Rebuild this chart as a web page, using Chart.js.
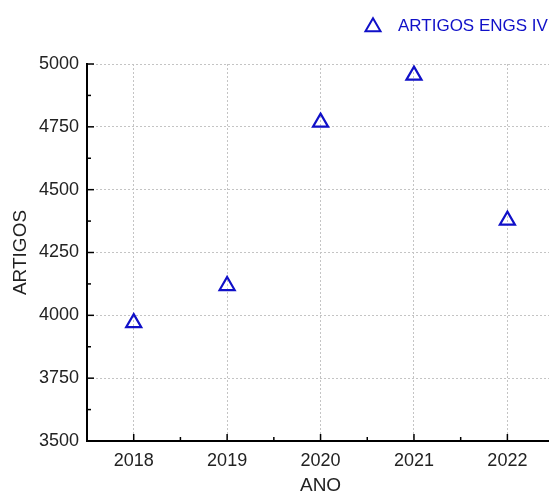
<!DOCTYPE html>
<html>
<head>
<meta charset="utf-8">
<script src="https://cdn.jsdelivr.net/npm/chart.js@4.4.1/dist/chart.umd.min.js"></script>
<style>
  body { margin: 0; overflow: hidden; background: #fff; }
  #wrap { width: 565px; height: 497px; }
</style>
</head>
<body>
<div id="wrap"><canvas id="myChart"></canvas></div>
<script>
let anos = [2018, 2019, 2020, 2021, 2022];
let artigos = [3970, 4118, 4768, 4955, 4378];
let nomeSerie = "ARTIGOS ENGS IV";
let yTicks = [3500, 3750, 4000, 4250, 4500, 4750, 5000];

let azul = "#1010c8";
let fonte = "'Liberation Sans', Arial, sans-serif";

// ticks pra dentro, estilo Origin
const ticksDentro = {
    id: "ticksDentro",
    afterDatasetsDraw(chart) {
        let ctx = chart.ctx;
        let area = chart.chartArea;
        let x = chart.scales.x;
        let y = chart.scales.y;
        ctx.save();
        ctx.strokeStyle = "#000";
        ctx.lineWidth = 1.5;
        anos.forEach((a) => {
            let px = x.getPixelForValue(a);
            ctx.beginPath(); ctx.moveTo(px, area.bottom); ctx.lineTo(px, area.bottom - 7); ctx.stroke();
            let pm = x.getPixelForValue(a + 0.5);
            ctx.beginPath(); ctx.moveTo(pm, area.bottom); ctx.lineTo(pm, area.bottom - 4); ctx.stroke();
        });
        yTicks.forEach((v, i) => {
            let py = y.getPixelForValue(v);
            ctx.beginPath(); ctx.moveTo(area.left, py); ctx.lineTo(area.left + 7, py); ctx.stroke();
            if (i < yTicks.length - 1) {
                let pm = y.getPixelForValue(v + 125);
                ctx.beginPath(); ctx.moveTo(area.left, pm); ctx.lineTo(area.left + 4, pm); ctx.stroke();
            }
        });
        ctx.restore();
    }
};

const legenda = {
    id: "legenda",
    afterDraw(chart) {
        let ctx = chart.ctx;
        ctx.save();
        ctx.strokeStyle = azul;
        ctx.lineWidth = 2;
        ctx.fillStyle = "rgba(0,0,0,0)";
        Chart.helpers.drawPoint(ctx, { pointStyle: "triangle", radius: 8.7, borderWidth: 2, rotation: 0 }, 373, 27);
        ctx.fillStyle = azul;
        ctx.font = "17px " + fonte;
        ctx.textBaseline = "middle";
        ctx.fillText(nomeSerie, 398, 26);
        ctx.restore();
    }
};

var data = {
    datasets: [
        {
            label: nomeSerie,
            data: anos.map((a, i) => ({ x: a, y: artigos[i] })),
            showLine: false,
            pointStyle: "triangle",
            pointRadius: 8.7,
            pointBorderWidth: 2.2,
            pointBorderColor: azul,
            pointBackgroundColor: "rgba(0,0,0,0)"
        }
    ]
};

var myChart = new Chart(document.getElementById("myChart"), {
    type: "scatter",
    data: data,
    plugins: [ticksDentro, legenda],
    options: {
        responsive: true,
        maintainAspectRatio: false,
        animation: false,
        layout: { padding: { top: 64, right: 10, left: 0, bottom: 0 } },
        plugins: { legend: { display: false }, tooltip: { enabled: false } },
        scales: {
            x: {
                type: "linear",
                min: 2017.5,
                max: 2022.5,
                afterBuildTicks: (scale) => { scale.ticks = anos.map((a) => ({ value: a })); },
                afterFit: (scale) => { scale.height = 56; },
                grid: { color: "#c4c4c4", lineWidth: 1, drawTicks: false },
                border: { color: "#000", width: 2, dash: [2, 2] },
                ticks: { color: "#222", font: { family: fonte, size: 18 }, padding: 9, callback: (v) => String(v) },
                title: { display: true, text: "ANO", color: "#222", font: { family: fonte, size: 19 }, padding: { top: 11, bottom: 0 } }
            },
            y: {
                min: 3500,
                max: 5000,
                afterBuildTicks: (scale) => { scale.ticks = yTicks.map((v) => ({ value: v })); },
                afterFit: (scale) => { scale.width = 87; },
                grid: { color: "#c4c4c4", lineWidth: 1, drawTicks: false },
                border: { color: "#000", width: 2, dash: [2, 2] },
                ticks: { color: "#222", font: { family: fonte, size: 18 }, padding: 8, callback: (v) => String(v) },
                title: { display: true, text: "ARTIGOS", color: "#222", font: { family: fonte, size: 19 }, padding: { top: 9, bottom: 0 } }
            }
        }
    }
});
</script>
</body>
</html>
